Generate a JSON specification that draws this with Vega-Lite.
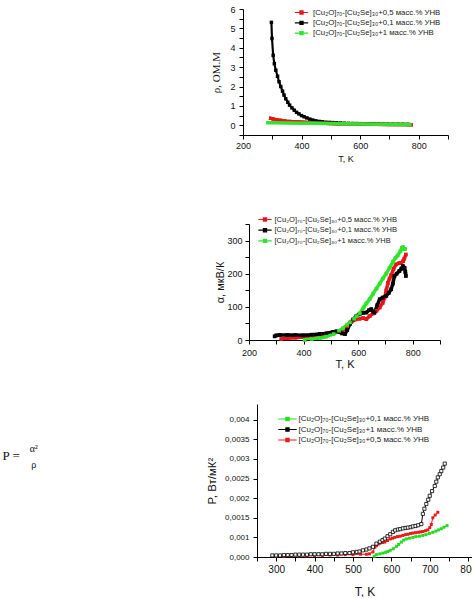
{
  "$schema": "https://vega.github.io/schema/vega-lite/v6.json",
  "padding": {"left": 0, "top": 5, "right": 0, "bottom": 0},
  "background": "white",
  "config": {
    "view": {"stroke": null},
    "font": "Liberation Sans",
    "axis": {
      "grid": false,
      "domainColor": "#000",
      "tickColor": "#000",
      "labelColor": "#111",
      "titleColor": "#111",
      "labelFont": "Liberation Sans",
      "titleFont": "Liberation Sans",
      "titleFontWeight": "normal",
      "labelFlush": false,
      "labelOverlap": false,
      "tickCount": 40,
      "tickSize": 4
    },
    "legend": {"labelFont": "Liberation Sans", "labelColor": "#222", "padding": 0, "labelLimit": 0}
  },
  "resolve": {"scale": {"color": "independent"}, "legend": {"color": "independent"}},
  "spacing": 35,
  "vconcat": [
    {
      "spacing": 52,
      "resolve": {"scale": {"color": "independent"}, "legend": {"color": "independent"}},
      "vconcat": [
        {
          "spacing": 209,
          "hconcat": [
            {"width": 1, "height": 1, "data": {"values": []}, "mark": "text"},
            {
              "width": 205,
              "height": 126,
              "data": {"values": [
                {"T":297,"v":5.31,"s":"0.1"},{"T":299,"v":4.48,"s":"0.1"},{"T":303,"v":3.61,"s":"0.1"},{"T":307,"v":3.18,"s":"0.1"},
                {"T":312,"v":2.84,"s":"0.1"},{"T":318,"v":2.53,"s":"0.1"},{"T":323,"v":2.25,"s":"0.1"},{"T":329,"v":2.0,"s":"0.1"},
                {"T":335,"v":1.76,"s":"0.1"},{"T":340,"v":1.56,"s":"0.1"},{"T":346,"v":1.37,"s":"0.1"},{"T":353,"v":1.19,"s":"0.1"},
                {"T":359,"v":1.04,"s":"0.1"},{"T":367,"v":0.9,"s":"0.1"},{"T":375,"v":0.78,"s":"0.1"},{"T":383,"v":0.67,"s":"0.1"},
                {"T":391,"v":0.59,"s":"0.1"},{"T":400,"v":0.5,"s":"0.1"},{"T":409,"v":0.44,"s":"0.1"},{"T":418,"v":0.38,"s":"0.1"},
                {"T":428,"v":0.32,"s":"0.1"},{"T":438,"v":0.27,"s":"0.1"},{"T":449,"v":0.23,"s":"0.1"},{"T":460,"v":0.2,"s":"0.1"},
                {"T":471,"v":0.18,"s":"0.1"},{"T":483,"v":0.16,"s":"0.1"},{"T":495,"v":0.15,"s":"0.1"},{"T":507,"v":0.14,"s":"0.1"},
                {"T":520,"v":0.13,"s":"0.1"},{"T":533,"v":0.12,"s":"0.1"},{"T":546,"v":0.11,"s":"0.1"},{"T":560,"v":0.1,"s":"0.1"},
                {"T":574,"v":0.095,"s":"0.1"},{"T":588,"v":0.09,"s":"0.1"},{"T":602,"v":0.085,"s":"0.1"},{"T":617,"v":0.08,"s":"0.1"},
                {"T":632,"v":0.075,"s":"0.1"},{"T":647,"v":0.07,"s":"0.1"},{"T":663,"v":0.066,"s":"0.1"},{"T":679,"v":0.062,"s":"0.1"},
                {"T":695,"v":0.058,"s":"0.1"},{"T":712,"v":0.055,"s":"0.1"},{"T":729,"v":0.052,"s":"0.1"},{"T":746,"v":0.05,"s":"0.1"},
                {"T":763,"v":0.048,"s":"0.1"},
                {"T":289,"v":0.38,"s":"0.5"},{"T":295,"v":0.36,"s":"0.5"},{"T":300,"v":0.34,"s":"0.5"},{"T":310,"v":0.3,"s":"0.5"},
                {"T":320,"v":0.27,"s":"0.5"},{"T":337,"v":0.23,"s":"0.5"},{"T":350,"v":0.21,"s":"0.5"},{"T":370,"v":0.19,"s":"0.5"},
                {"T":393,"v":0.17,"s":"0.5"},{"T":420,"v":0.14,"s":"0.5"},{"T":449,"v":0.115,"s":"0.5"},{"T":480,"v":0.1,"s":"0.5"},
                {"T":520,"v":0.085,"s":"0.5"},{"T":560,"v":0.075,"s":"0.5"},{"T":600,"v":0.065,"s":"0.5"},{"T":650,"v":0.055,"s":"0.5"},
                {"T":700,"v":0.045,"s":"0.5"},{"T":750,"v":0.037,"s":"0.5"},{"T":780,"v":0.033,"s":"0.5"},
                {"T":279,"v":0.13,"s":"1"},{"T":300,"v":0.13,"s":"1"},{"T":350,"v":0.12,"s":"1"},{"T":400,"v":0.11,"s":"1"},
                {"T":450,"v":0.1,"s":"1"},{"T":500,"v":0.09,"s":"1"},{"T":550,"v":0.08,"s":"1"},{"T":600,"v":0.07,"s":"1"},
                {"T":650,"v":0.06,"s":"1"},{"T":700,"v":0.05,"s":"1"},{"T":750,"v":0.04,"s":"1"},{"T":776,"v":0.035,"s":"1"}
              ]},
              "layer": [
                {
                  "mark": {"type": "line", "clip": true},
                  "encoding": {
                    "x": {"field": "T", "type": "quantitative",
                      "scale": {"domain": [200, 900], "nice": false, "zero": false},
                      "axis": {"title": "T, K", "values": [200,300,400,500,600,700,800,900], "tickCount": 40,
                        "labelExpr": "datum.value % 200 == 0 && datum.value < 900 ? datum.label : ''",
                        "labelOverlap": false, "labelFontSize": 9, "titleFontSize": 9, "labelPadding": 2, "titlePadding": 4}},
                    "y": {"field": "v", "type": "quantitative",
                      "scale": {"domain": [-0.5, 6], "nice": false, "zero": false},
                      "axis": {"title": "ρ, ОМ.М", "values": [-0.5,0,0.5,1,1.5,2,2.5,3,3.5,4,4.5,5,5.5,6], "tickCount": 40,
                        "labelExpr": "datum.value % 1 == 0 ? format(datum.value, 'd') : ''",
                        "labelOverlap": false, "labelFontSize": 9, "labelPadding": 4, "titleFont": "Liberation Serif", "titleFontSize": 11, "titlePadding": 8}},
                    "color": {"field": "s", "type": "nominal",
                      "scale": {"domain": ["0.5", "0.1", "1"], "range": ["#e8161c", "#000000", "#2ee42e"]},
                      "legend": {"title": null, "orient": "none", "legendX": 297, "legendY": -1,
                        "symbolType": "M-1.9,0H1.9M-0.45,-0.45H0.45V0.45H-0.45Z", "symbolSize": 49, "symbolStrokeWidth": 1.2,
                        "labelFontSize": 7.8, "labelOffset": 7, "rowPadding": 1.3,
                        "labelExpr": "'[Cu₂O]₇₀-[Cu₂Se]₃₀+' + replace(datum.label, '.', ',') + ' масс.% УНВ'"}},
                    "strokeWidth": {"field": "s", "type": "nominal",
                      "scale": {"domain": ["0.5", "0.1", "1"], "range": [3.5, 0.8, 3.5]}, "legend": null}
                  }
                },
                {
                  "transform": [{"filter": "datum.s == '0.1'"}],
                  "mark": {"type": "point", "shape": "square", "filled": true, "size": 12, "opacity": 1},
                  "encoding": {
                    "x": {"field": "T", "type": "quantitative"},
                    "y": {"field": "v", "type": "quantitative"},
                    "color": {"field": "s", "type": "nominal", "legend": null}
                  }
                },
                {
                  "transform": [{"filter": "datum.s != '0.1'"}],
                  "mark": {"type": "line", "strokeWidth": 3.5, "clip": true},
                  "encoding": {
                    "x": {"field": "T", "type": "quantitative"},
                    "y": {"field": "v", "type": "quantitative"},
                    "color": {"field": "s", "type": "nominal", "legend": null}
                  }
                }
              ]
            }
          ]
        },
        {
          "spacing": 213,
          "hconcat": [
            {"width": 1, "height": 1, "data": {"values": []}, "mark": "text"},
            {
              "width": 191,
              "height": 116,
              "data": {"values": [
                {"T":318,"v":3,"s":"0.5"},{"T":340,"v":5,"s":"0.5"},{"T":370,"v":7,"s":"0.5"},{"T":398,"v":9,"s":"0.5"},
                {"T":430,"v":13,"s":"0.5"},{"T":460,"v":16,"s":"0.5"},{"T":483,"v":19,"s":"0.5"},{"T":510,"v":23,"s":"0.5"},
                {"T":530,"v":26,"s":"0.5"},{"T":544,"v":29,"s":"0.5"},{"T":560,"v":40,"s":"0.5"},{"T":575,"v":55,"s":"0.5"},
                {"T":590,"v":62,"s":"0.5"},{"T":605,"v":64,"s":"0.5"},{"T":618,"v":66,"s":"0.5"},{"T":630,"v":63,"s":"0.5"},
                {"T":642,"v":72,"s":"0.5"},{"T":655,"v":80,"s":"0.5"},{"T":667,"v":88,"s":"0.5"},{"T":679,"v":98,"s":"0.5"},
                {"T":690,"v":112,"s":"0.5"},{"T":697,"v":128,"s":"0.5"},{"T":703,"v":150,"s":"0.5"},{"T":709,"v":172,"s":"0.5"},
                {"T":715,"v":185,"s":"0.5"},{"T":721,"v":196,"s":"0.5"},{"T":730,"v":215,"s":"0.5"},{"T":739,"v":228,"s":"0.5"},
                {"T":750,"v":232,"s":"0.5"},{"T":758,"v":233,"s":"0.5"},{"T":765,"v":238,"s":"0.5"},{"T":769,"v":245,"s":"0.5"},
                {"T":775,"v":258,"s":"0.5"},
                {"T":294,"v":11,"s":"0.1"},{"T":300,"v":14,"s":"0.1"},{"T":312,"v":15,"s":"0.1"},{"T":340,"v":15,"s":"0.1"},
                {"T":370,"v":15,"s":"0.1"},{"T":398,"v":14,"s":"0.1"},{"T":430,"v":16,"s":"0.1"},{"T":459,"v":18,"s":"0.1"},
                {"T":483,"v":20,"s":"0.1"},{"T":507,"v":24,"s":"0.1"},{"T":520,"v":26,"s":"0.1"},{"T":531,"v":24,"s":"0.1"},
                {"T":540,"v":20,"s":"0.1"},{"T":552,"v":18,"s":"0.1"},{"T":560,"v":30,"s":"0.1"},{"T":570,"v":48,"s":"0.1"},
                {"T":582,"v":62,"s":"0.1"},{"T":594,"v":73,"s":"0.1"},{"T":605,"v":78,"s":"0.1"},{"T":618,"v":82,"s":"0.1"},
                {"T":630,"v":83,"s":"0.1"},{"T":640,"v":90,"s":"0.1"},{"T":648,"v":93,"s":"0.1"},{"T":655,"v":86,"s":"0.1"},
                {"T":660,"v":83,"s":"0.1"},{"T":670,"v":105,"s":"0.1"},{"T":679,"v":123,"s":"0.1"},{"T":690,"v":128,"s":"0.1"},
                {"T":703,"v":133,"s":"0.1"},{"T":712,"v":142,"s":"0.1"},{"T":721,"v":153,"s":"0.1"},{"T":727,"v":170,"s":"0.1"},
                {"T":733,"v":193,"s":"0.1"},{"T":741,"v":200,"s":"0.1"},{"T":751,"v":208,"s":"0.1"},{"T":758,"v":215,"s":"0.1"},
                {"T":764,"v":223,"s":"0.1"},{"T":770,"v":218,"s":"0.1"},{"T":773,"v":205,"s":"0.1"},{"T":775,"v":193,"s":"0.1"},
                {"T":404,"v":0,"s":"1"},{"T":430,"v":3,"s":"1"},{"T":460,"v":6,"s":"1"},{"T":483,"v":10,"s":"1"},
                {"T":510,"v":18,"s":"1"},{"T":530,"v":28,"s":"1"},{"T":544,"v":35,"s":"1"},{"T":560,"v":46,"s":"1"},
                {"T":570,"v":53,"s":"1"},{"T":585,"v":64,"s":"1"},{"T":595,"v":72,"s":"1"},{"T":606,"v":80,"s":"1"},
                {"T":620,"v":98,"s":"1"},{"T":630,"v":110,"s":"1"},{"T":642,"v":123,"s":"1"},{"T":655,"v":140,"s":"1"},
                {"T":667,"v":155,"s":"1"},{"T":679,"v":170,"s":"1"},{"T":690,"v":185,"s":"1"},{"T":703,"v":200,"s":"1"},
                {"T":715,"v":218,"s":"1"},{"T":727,"v":235,"s":"1"},{"T":737,"v":248,"s":"1"},{"T":745,"v":255,"s":"1"},
                {"T":755,"v":268,"s":"1"},{"T":760,"v":278,"s":"1"},{"T":764,"v":280,"s":"1"},{"T":768,"v":275,"s":"1"},
                {"T":772,"v":274,"s":"1"}
              ]},
              "layer": [
                {
                  "mark": {"type": "line", "strokeWidth": 3.5, "clip": true},
                  "encoding": {
                    "x": {"field": "T", "type": "quantitative",
                      "scale": {"domain": [200, 900], "nice": false, "zero": false},
                      "axis": {"title": "T, K", "values": [200,300,400,500,600,700,800,900], "tickCount": 40,
                        "labelExpr": "datum.value % 200 == 0 && datum.value < 900 ? datum.label : ''",
                        "labelOverlap": false, "labelFontSize": 9, "titleFontSize": 11, "labelPadding": 4, "titlePadding": 1}},
                    "y": {"field": "v", "type": "quantitative",
                      "scale": {"domain": [0, 350], "nice": false},
                      "axis": {"title": "α, мкВ/К", "values": [0,50,100,150,200,250,300,350], "tickCount": 40,
                        "labelExpr": "datum.value % 100 == 0 ? datum.label : ''",
                        "labelOverlap": false, "labelFontSize": 9, "labelPadding": 3, "titleFontSize": 11, "titlePadding": 1}},
                    "color": {"field": "s", "type": "nominal",
                      "scale": {"domain": ["0.5", "0.1", "1"], "range": ["#e8161c", "#000000", "#2ee42e"]},
                      "legend": {"title": null, "orient": "none", "legendX": 260.5, "legendY": -9,
                        "symbolType": "M-1.9,0H1.9M-0.45,-0.45H0.45V0.45H-0.45Z", "symbolSize": 49, "symbolStrokeWidth": 1.2,
                        "labelFontSize": 7.5, "labelOffset": 5, "rowPadding": 1.7,
                        "labelExpr": "'[Cu₂O]₇₀-[Cu₂Se]₃₀+' + replace(datum.label, '.', ',') + ' масс.% УНВ'"}}
                  }
                },
                {
                  "mark": {"type": "point", "shape": "square", "filled": true, "size": 14, "opacity": 1},
                  "encoding": {
                    "x": {"field": "T", "type": "quantitative"},
                    "y": {"field": "v", "type": "quantitative"},
                    "color": {"field": "s", "type": "nominal", "legend": null}
                  }
                }
              ]
            }
          ]
        }
      ]
    },
    {
      "spacing": 161,
      "hconcat": [
        {
          "width": 45,
          "height": 103,
          "layer": [
            {
              "data": {"values": [{"c": "L", "t": "P ="}]},
              "mark": {"type": "text", "font": "Liberation Serif", "fontSize": 13, "color": "#111"},
              "encoding": {
                "x": {"field": "c", "type": "nominal", "scale": {"domain": ["L", "R"]}, "axis": null},
                "text": {"field": "t"}
              }
            },
            {
              "data": {"values": [{"c": "R", "t": "α²\nρ"}]},
              "mark": {"type": "text", "font": "Liberation Serif", "fontSize": 10, "lineBreak": "\n", "lineHeight": 16, "dy": -6.5, "color": "#111"},
              "encoding": {
                "x": {"field": "c", "type": "nominal", "axis": null},
                "text": {"field": "t"}
              }
            }
          ]
        },
        {
          "width": 215,
          "height": 153,
          "data": {"values": [
            {"T":290,"v":0.00004,"s":"1"},{"T":300,"v":0.00004,"s":"1"},{"T":310,"v":0.00004,"s":"1"},{"T":320,"v":0.00005,"s":"1"},
            {"T":330,"v":0.00005,"s":"1"},{"T":340,"v":0.00005,"s":"1"},{"T":350,"v":0.00006,"s":"1"},{"T":360,"v":0.00006,"s":"1"},
            {"T":370,"v":0.00006,"s":"1"},{"T":380,"v":0.00006,"s":"1"},{"T":390,"v":0.00007,"s":"1"},{"T":400,"v":0.00007,"s":"1"},
            {"T":410,"v":0.00007,"s":"1"},{"T":420,"v":0.00007,"s":"1"},{"T":430,"v":0.00008,"s":"1"},{"T":440,"v":0.00008,"s":"1"},
            {"T":450,"v":0.00008,"s":"1"},{"T":460,"v":0.00009,"s":"1"},{"T":470,"v":0.00009,"s":"1"},{"T":480,"v":0.0001,"s":"1"},
            {"T":491,"v":0.0001,"s":"1"},{"T":500,"v":0.00012,"s":"1"},{"T":510,"v":0.00013,"s":"1"},{"T":517,"v":0.00014,"s":"1"},
            {"T":526,"v":0.00017,"s":"1"},{"T":535,"v":0.00019,"s":"1"},{"T":543,"v":0.00022,"s":"1"},{"T":552,"v":0.00026,"s":"1"},
            {"T":561,"v":0.00034,"s":"1"},{"T":570,"v":0.00039,"s":"1"},{"T":577,"v":0.00043,"s":"1"},{"T":583,"v":0.00047,"s":"1"},
            {"T":590,"v":0.00053,"s":"1"},{"T":597,"v":0.00058,"s":"1"},{"T":604,"v":0.00064,"s":"1"},{"T":610,"v":0.00068,"s":"1"},
            {"T":617,"v":0.0007,"s":"1"},{"T":623,"v":0.00071,"s":"1"},{"T":630,"v":0.00073,"s":"1"},{"T":637,"v":0.00074,"s":"1"},
            {"T":643,"v":0.00075,"s":"1"},{"T":650,"v":0.00076,"s":"1"},{"T":656,"v":0.00078,"s":"1"},{"T":663,"v":0.00079,"s":"1"},
            {"T":670,"v":0.00081,"s":"1"},{"T":678,"v":0.00084,"s":"1"},{"T":682,"v":0.0011,"s":"1"},{"T":686,"v":0.00123,"s":"1"},
            {"T":691,"v":0.00135,"s":"1"},{"T":696,"v":0.00146,"s":"1"},{"T":700,"v":0.00156,"s":"1"},{"T":706,"v":0.00168,"s":"1"},
            {"T":713,"v":0.00181,"s":"1"},{"T":717,"v":0.00192,"s":"1"},{"T":721,"v":0.00203,"s":"1"},{"T":726,"v":0.00211,"s":"1"},
            {"T":730,"v":0.00219,"s":"1"},{"T":735,"v":0.00228,"s":"1"},{"T":739,"v":0.00238,"s":"1"},
            {"T":555,"v":0.00002,"s":"0.1"},{"T":561,"v":0.00006,"s":"0.1"},{"T":570,"v":0.00008,"s":"0.1"},{"T":578,"v":0.0001,"s":"0.1"},
            {"T":585,"v":0.00012,"s":"0.1"},{"T":591,"v":0.00014,"s":"0.1"},{"T":597,"v":0.00017,"s":"0.1"},{"T":605,"v":0.00021,"s":"0.1"},
            {"T":613,"v":0.00027,"s":"0.1"},{"T":619,"v":0.00032,"s":"0.1"},{"T":626,"v":0.00038,"s":"0.1"},{"T":632,"v":0.00043,"s":"0.1"},
            {"T":639,"v":0.00046,"s":"0.1"},{"T":647,"v":0.00048,"s":"0.1"},{"T":656,"v":0.0005,"s":"0.1"},{"T":664,"v":0.00052,"s":"0.1"},
            {"T":673,"v":0.00053,"s":"0.1"},{"T":682,"v":0.00055,"s":"0.1"},{"T":690,"v":0.00057,"s":"0.1"},{"T":699,"v":0.0006,"s":"0.1"},
            {"T":708,"v":0.00063,"s":"0.1"},{"T":716,"v":0.00066,"s":"0.1"},{"T":723,"v":0.00069,"s":"0.1"},{"T":730,"v":0.00072,"s":"0.1"},
            {"T":737,"v":0.00076,"s":"0.1"},{"T":745,"v":0.0008,"s":"0.1"},
            {"T":300,"v":0.00002,"s":"0.5"},{"T":320,"v":0.00002,"s":"0.5"},{"T":340,"v":0.00003,"s":"0.5"},{"T":360,"v":0.00003,"s":"0.5"},
            {"T":380,"v":0.00003,"s":"0.5"},{"T":400,"v":0.00004,"s":"0.5"},{"T":420,"v":0.00004,"s":"0.5"},{"T":440,"v":0.00005,"s":"0.5"},
            {"T":460,"v":0.00005,"s":"0.5"},{"T":480,"v":0.00006,"s":"0.5"},{"T":500,"v":0.00006,"s":"0.5"},{"T":520,"v":0.00007,"s":"0.5"},
            {"T":535,"v":0.00007,"s":"0.5"},{"T":543,"v":0.00008,"s":"0.5"},{"T":552,"v":0.00013,"s":"0.5"},{"T":557,"v":0.00025,"s":"0.5"},
            {"T":561,"v":0.00029,"s":"0.5"},{"T":566,"v":0.00033,"s":"0.5"},{"T":570,"v":0.00035,"s":"0.5"},{"T":577,"v":0.00037,"s":"0.5"},
            {"T":583,"v":0.00038,"s":"0.5"},{"T":590,"v":0.00042,"s":"0.5"},{"T":597,"v":0.00046,"s":"0.5"},{"T":603,"v":0.00048,"s":"0.5"},
            {"T":609,"v":0.0005,"s":"0.5"},{"T":616,"v":0.00052,"s":"0.5"},{"T":623,"v":0.00053,"s":"0.5"},{"T":630,"v":0.00055,"s":"0.5"},
            {"T":637,"v":0.00057,"s":"0.5"},{"T":643,"v":0.00058,"s":"0.5"},{"T":650,"v":0.0006,"s":"0.5"},{"T":656,"v":0.00061,"s":"0.5"},
            {"T":663,"v":0.00062,"s":"0.5"},{"T":670,"v":0.00063,"s":"0.5"},{"T":676,"v":0.00064,"s":"0.5"},{"T":682,"v":0.00065,"s":"0.5"},
            {"T":689,"v":0.00067,"s":"0.5"},{"T":695,"v":0.00069,"s":"0.5"},{"T":700,"v":0.00075,"s":"0.5"},{"T":704,"v":0.00083,"s":"0.5"},
            {"T":708,"v":0.001,"s":"0.5"},{"T":714,"v":0.00107,"s":"0.5"},{"T":721,"v":0.00114,"s":"0.5"}
          ]},
          "layer": [
            {
              "mark": {"type": "line", "strokeWidth": 1, "clip": true},
              "encoding": {
                "x": {"field": "T", "type": "quantitative",
                  "scale": {"domain": [250, 810], "nice": false, "zero": false},
                  "axis": {"title": "T, K", "values": [250,300,350,400,450,500,550,600,650,700,750,800], "tickCount": 40,
                    "labelExpr": "datum.value % 100 == 0 ? datum.label : ''",
                    "labelOverlap": false, "labelFontSize": 10, "titleFontSize": 12, "labelPadding": 3, "titlePadding": 12}},
                "y": {"field": "v", "type": "quantitative",
                  "scale": {"domain": [0, 0.0039], "nice": false},
                  "axis": {"title": "P, Вт/мК²", "values": [0,0.0005,0.001,0.0015,0.002,0.0025,0.003,0.0035], "tickCount": 40,
                    "labelExpr": "['0,000','0,001','0,0015','0,002','0,0025','0,003','0,0035','0,004'][round(datum.value / 0.0005)]",
                    "labelOverlap": false, "labelFontSize": 8, "labelPadding": 4, "titleFontSize": 11.5, "titlePadding": 7}},
                "color": {"field": "s", "type": "nominal",
                  "scale": {"domain": ["0.1", "1", "0.5"], "range": ["#22dc22", "#000000", "#ec1a1a"]},
                  "legend": {"title": null, "orient": "none", "legendX": 282.5, "legendY": 10,
                    "symbolType": "M-2.3,0H2.3M-0.4,-0.4H0.4V0.4H-0.4Z", "symbolSize": 64, "symbolStrokeWidth": 1.2,
                    "labelFontSize": 8, "labelOffset": 6, "rowPadding": 1.5,
                    "labelExpr": "'[Cu₂O]₇₀-[Cu₂Se]₃₀+' + replace(datum.label, '.', ',') + ' масс.% УНВ'"}}
              }
            },
            {
              "transform": [{"filter": "datum.s != '1'"}],
              "mark": {"type": "point", "shape": "square", "filled": true, "size": 9, "opacity": 1},
              "encoding": {
                "x": {"field": "T", "type": "quantitative"},
                "y": {"field": "v", "type": "quantitative"},
                "color": {"field": "s", "type": "nominal", "legend": null}
              }
            },
            {
              "transform": [{"filter": "datum.s == '1'"}],
              "mark": {"type": "point", "shape": "square", "fill": "white", "stroke": "black", "strokeWidth": 0.8, "size": 10, "opacity": 1},
              "encoding": {
                "x": {"field": "T", "type": "quantitative"},
                "y": {"field": "v", "type": "quantitative"}
              }
            }
          ]
        }
      ]
    }
  ]
}
